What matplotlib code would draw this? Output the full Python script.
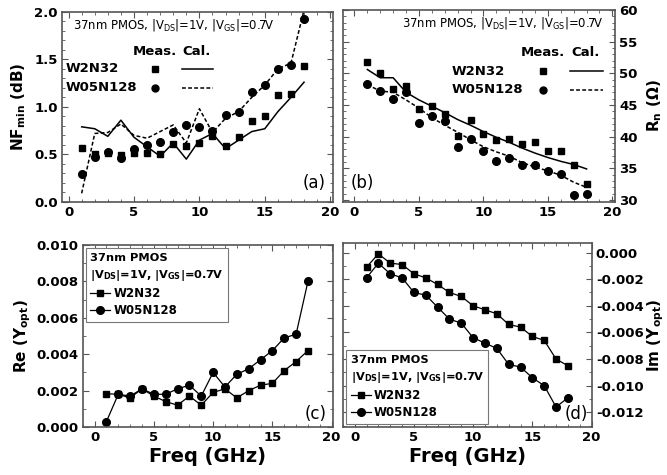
import matplotlib
matplotlib.use("Agg")
import matplotlib.pyplot as plt
from matplotlib.ticker import MultipleLocator, FormatStrFormatter
import numpy as np

plt.rcParams['font.family'] = ['DejaVu Sans']
plt.rcParams['mathtext.default'] = 'regular'
plt.rcParams['axes.unicode_minus'] = False

freq = np.arange(1, 19)

# (a) NFmin (dB)
nf_meas_w2 = [0.57, 0.50, 0.51, 0.49, 0.51, 0.51, 0.50, 0.61, 0.59, 0.62, 0.69, 0.59, 0.68, 0.85, 0.90, 1.12, 1.14, 1.43]
nf_meas_w05 = [0.29, 0.47, 0.52, 0.46, 0.56, 0.60, 0.63, 0.74, 0.81, 0.79, 0.75, 0.91, 0.95, 1.16, 1.23, 1.40, 1.44, 1.93]
nf_cal_w2 = [0.79, 0.77, 0.69, 0.86, 0.68, 0.58, 0.48, 0.62, 0.45, 0.65, 0.72, 0.56, 0.65, 0.74, 0.77, 0.95, 1.10, 1.26]
nf_cal_w05 = [0.09, 0.72, 0.73, 0.82, 0.70, 0.67, 0.74, 0.81, 0.62, 0.98, 0.73, 0.88, 0.95, 1.10, 1.23, 1.40, 1.46, 2.02]

# (b) Rn (ohm)
rn_meas_w2 = [51.8, 50.0, 47.6, 48.0, 44.3, 44.8, 43.6, 40.1, 42.7, 40.4, 39.4, 39.7, 38.8, 39.2, 37.8, 37.7, 35.5, 32.5]
rn_meas_w05 = [48.3, 47.2, 45.9, 47.0, 42.1, 43.3, 42.4, 38.3, 39.6, 37.8, 36.2, 36.7, 35.5, 35.6, 34.6, 34.1, 30.8, 31.0]
rn_cal_w2 = [50.6, 49.3, 49.3, 47.0, 45.8, 44.8, 43.8, 42.7, 41.8, 40.8, 39.9, 39.1, 38.2, 37.4, 36.7, 36.1, 35.6, 34.9]
rn_cal_w05 = [48.2, 47.2, 47.0, 45.8, 44.5, 43.0, 41.8, 40.7, 39.5, 38.4, 37.6, 36.9, 35.9, 35.2, 34.6, 33.9, 32.8, 32.0]

# (c) Re(Yopt)
re_w2 = [0.00183, 0.0018, 0.0016, 0.0021, 0.0017, 0.0014, 0.0012, 0.0017, 0.0012, 0.0019, 0.0021, 0.0016,
         0.0020, 0.0023, 0.0024, 0.0031, 0.0036, 0.0042]
re_w05 = [0.0003, 0.0018, 0.0017, 0.0021, 0.0018, 0.0018, 0.0021, 0.0023, 0.0017, 0.0030, 0.0022, 0.0029,
          0.0032, 0.0037, 0.0042, 0.0049, 0.0051, 0.0080]

# (d) Im(Yopt)
im_w2 = [-0.0011, -0.0001, -0.0008, -0.0009, -0.0016, -0.0019, -0.0024, -0.0030, -0.0033, -0.0040, -0.0043,
         -0.0046, -0.0054, -0.0056, -0.0063, -0.0066, -0.0080, -0.0085]
im_w05 = [-0.0019, -0.0008, -0.0016, -0.0019, -0.0030, -0.0032, -0.0041, -0.0050, -0.0053, -0.0064, -0.0068,
          -0.0072, -0.0084, -0.0086, -0.0094, -0.0100, -0.0116, -0.0109]

header = '37nm PMOS, |V$_{DS}$|=1V, |V$_{GS}$|=0.7V'
frame_col = '#555555'


def style(ax, ymajor, yminor, yfmt=None, right=False):
    for s in ax.spines.values():
        s.set_color(frame_col)
        s.set_linewidth(1.2)
    ax.xaxis.set_major_locator(MultipleLocator(5))
    ax.xaxis.set_minor_locator(MultipleLocator(1))
    ax.yaxis.set_major_locator(MultipleLocator(ymajor))
    ax.yaxis.set_minor_locator(MultipleLocator(yminor))
    if yfmt:
        ax.yaxis.set_major_formatter(FormatStrFormatter(yfmt))
    ax.tick_params(which='both', direction='in', top=True, right=True, colors=frame_col,
                   labelcolor='black', labelsize=9.5)
    ax.tick_params(which='major', length=4, pad=3)
    ax.tick_params(which='minor', length=2)
    if right:
        ax.yaxis.tick_right()
        ax.yaxis.set_label_position('right')
        ax.tick_params(which='both', left=True, right=True, direction='in')
    for lb in ax.get_xticklabels() + ax.get_yticklabels():
        lb.set_fontweight('bold')


def meas_cal_key(ax, x_meas, x_cal, ys, x_name, x_line):
    # little "Meas. / Cal." key drawn in axes coordinates
    ax.text(x_meas, ys[0], 'Meas.', transform=ax.transAxes, fontsize=9.5,
            fontweight='bold', va='center', ha='center')
    ax.text(x_cal, ys[0], 'Cal.', transform=ax.transAxes, fontsize=9.5,
            fontweight='bold', va='center', ha='center')
    for y, name, mk, ls in [(ys[1], 'W2N32', 's', '-'), (ys[2], 'W05N128', 'o', '--')]:
        ax.text(x_name, y, name, transform=ax.transAxes, fontsize=9.5, fontweight='bold', va='center')
        ax.plot([x_meas], [y], marker=mk, color='black', ms=5, transform=ax.transAxes, clip_on=False)
        ax.plot(x_line, [y, y], ls=ls, color='black', lw=1.1, transform=ax.transAxes,
                clip_on=False, dashes=(2.5, 1.5) if ls == '--' else (None, None))


fig = plt.figure(figsize=(6.67, 4.75), dpi=100)

# (a)
ax_a = fig.add_axes([0.093, 0.575, 0.406, 0.400])
ax_a.plot(freq, nf_meas_w2, 's', color='black', ms=5)
ax_a.plot(freq, nf_meas_w05, 'o', color='black', ms=5.5)
ax_a.plot(freq, nf_cal_w2, '-', color='black', lw=1.1)
ax_a.plot(freq, nf_cal_w05, '--', color='black', lw=1.1, dashes=(2.5, 1.5))
ax_a.set_xlim(-0.5, 20.2)
ax_a.set_ylim(0, 2.0)
style(ax_a, 0.5, 0.1, '%.1f')
ax_a.set_ylabel('NF$_{min}$ (dB)', fontsize=11, fontweight='bold')
ax_a.yaxis.set_label_coords(-0.125, 0.5)
ax_a.text(0.04, 0.93, header, transform=ax_a.transAxes, fontsize=8.4, va='center')
meas_cal_key(ax_a, 0.343, 0.498, (0.79, 0.70, 0.60), 0.015, [0.443, 0.557])
ax_a.text(0.975, 0.05, '(a)', transform=ax_a.transAxes, fontsize=12, ha='right', va='bottom')

# (b)
ax_b = fig.add_axes([0.514, 0.575, 0.408, 0.404])
ax_b.plot(freq, rn_meas_w2, 's', color='black', ms=5)
ax_b.plot(freq, rn_meas_w05, 'o', color='black', ms=5.5)
ax_b.plot(freq, rn_cal_w2, '-', color='black', lw=1.1)
ax_b.plot(freq, rn_cal_w05, '--', color='black', lw=1.1, dashes=(2.5, 1.5))
ax_b.set_xlim(-0.9, 20.2)
ax_b.set_ylim(29.7, 60)
style(ax_b, 5, 1, right=True)
ax_b.set_ylabel('R$_n$ (Ω)', fontsize=11, fontweight='bold', rotation=90)
ax_b.yaxis.set_label_coords(1.11, 0.5)
ax_b.text(0.956, 0.93, header, transform=ax_b.transAxes, fontsize=8.4, va='center', ha='right')
meas_cal_key(ax_b, 0.735, 0.893, (0.78, 0.68, 0.583), 0.40, [0.835, 0.956])
ax_b.text(0.03, 0.05, '(b)', transform=ax_b.transAxes, fontsize=12, ha='left', va='bottom')

# (c)
ax_c = fig.add_axes([0.124, 0.101, 0.375, 0.383])
ax_c.plot(freq, re_w2, '-s', color='black', ms=5, lw=0.9, label='W2N32')
ax_c.plot(freq, re_w05, '-o', color='black', ms=5.5, lw=0.9, label='W05N128')
ax_c.set_xlim(-1.0, 20.1)
ax_c.set_ylim(0, 0.010)
style(ax_c, 0.002, 0.001, '%.3f')
ax_c.set_ylabel('Re (Y$_{opt}$)', fontsize=11, fontweight='bold')
ax_c.yaxis.set_label_coords(-0.2, 0.5)
ax_c.set_xlabel('Freq (GHz)', fontsize=14, fontweight='bold')
ax_c.xaxis.set_label_coords(0.5, -0.11)
ax_c.text(0.975, 0.02, '(c)', transform=ax_c.transAxes, fontsize=12, ha='right', va='bottom')

# (d)
ax_d = fig.add_axes([0.514, 0.101, 0.373, 0.387])
ax_d.plot(freq, im_w2, '-s', color='black', ms=5, lw=0.9, label='W2N32')
ax_d.plot(freq, im_w05, '-o', color='black', ms=5.5, lw=0.9, label='W05N128')
ax_d.set_xlim(-1.0, 20.0)
ax_d.set_ylim(-0.0131, 0.0007)
style(ax_d, 0.002, 0.001, '%.3f', right=True)
ax_d.set_ylabel('Im (Y$_{opt}$)', fontsize=11, fontweight='bold', rotation=90)
ax_d.yaxis.set_label_coords(1.215, 0.5)
ax_d.set_xlabel('Freq (GHz)', fontsize=14, fontweight='bold')
ax_d.xaxis.set_label_coords(0.5, -0.11)
ax_d.text(0.985, 0.02, '(d)', transform=ax_d.transAxes, fontsize=12, ha='right', va='bottom')

leg_title = '37nm PMOS\n|V$_{DS}$|=1V, |V$_{GS}$|=0.7V'
for ax, loc in [(ax_c, 'upper left'), (ax_d, 'lower left')]:
    leg = ax.legend(loc=loc, title=leg_title, alignment='left', fancybox=False,
                    edgecolor='#777777', framealpha=1, fontsize=8.5, title_fontsize=8.2,
                    handlelength=1.7, handletextpad=0.3, borderpad=0.4, labelspacing=0.35,
                    borderaxespad=0.25)
    leg.get_frame().set_linewidth(0.8)
    leg.get_title().set_fontweight('bold')
    leg.get_title().set_linespacing(1.5)
    for t in leg.get_texts():
        t.set_fontweight('bold')

fig.savefig('out.png', dpi=100)
